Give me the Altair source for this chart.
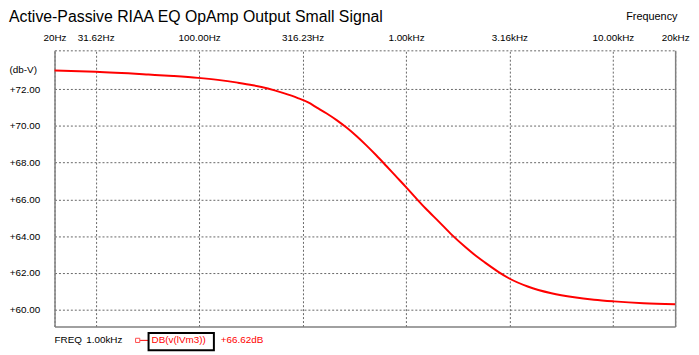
import altair as alt
import pandas as pd

# ---- data ----
freq_hz = [20, 31.6, 56.9, 75.0, 98.8, 123.1, 153.5, 181.9, 214.9, 253.9, 299.9, 336.7, 370.7,
           413.8, 462.0, 515.8, 575.8, 643.2, 717.9, 801.6, 895, 1000, 1115, 1245, 1437, 1671,
           1935, 2160, 2412, 2793, 3142, 3875, 5046, 6502, 8106, 10100, 14060, 20000]
db_v = [73.02, 72.95, 72.8, 72.72, 72.62, 72.51, 72.36, 72.22, 72.04, 71.8, 71.52, 71.28, 71.0,
        70.68, 70.32, 69.91, 69.45, 68.94, 68.4, 67.83, 67.25, 66.67, 66.08, 65.5, 64.8, 64.05,
        63.4, 62.95, 62.55, 62.05, 61.7, 61.25, 60.88, 60.66, 60.53, 60.44, 60.34, 60.28]

x_tick_values = [20, 31.62, 100, 316.23, 1000, 3162.3, 10000, 20000]
x_tick_labels = ["20Hz", "31.62Hz", "100.00Hz", "316.23Hz", "1.00kHz", "3.16kHz", "10.00kHz", "20kHz"]
y_tick_values = [60, 62, 64, 66, 68, 70, 72]
y_domain = [59.07, 74.12]

title_text = "Active-Passive RIAA EQ OpAmp Output Small Signal"
x_title = "Frequency"
y_title = "(db-V)"
cursor_label = ["FREQ", "1.00kHz"]
trace_name = "DB(v(lVm3))"
cursor_value = "+66.62dB"

FONT = "Liberation Sans"
RED = "#ff0000"
GRAY = "#808080"

df = pd.DataFrame({"freq": freq_hz, "db": db_v})

# label expression built from the tick lists
expr = "''"
for v, lab in zip(reversed(x_tick_values), reversed(x_tick_labels)):
    expr = f"abs(datum.value - {v}) < {v * 0.001} ? '{lab}' : ({expr})"

x_scale = alt.Scale(type="log", domain=[20, 20000], nice=False)
y_scale = alt.Scale(domain=y_domain, nice=False, zero=False)

main = alt.Chart(df).mark_line(color=RED, strokeWidth=2, interpolate="monotone").encode(
    x=alt.X("freq:Q", scale=x_scale, axis=alt.Axis(
        orient="top", values=x_tick_values, labelExpr=expr, labelOverlap=False, labelFlush=False,
        ticks=False, tickSize=0, labelPadding=8, domain=False,
        grid=True, gridColor="#666666", gridDash=[2, 2], gridWidth=1,
        labelFont=FONT, labelFontSize=10, labelColor="black",
        title=x_title, titleFont=FONT, titleFontSize=11, titleFontWeight="normal", titleColor="black",
        titleX=577, titleY=-34, titleAlign="left", titleBaseline="middle", titleAngle=0)),
    y=alt.Y("db:Q", scale=y_scale, axis=alt.Axis(
        orient="left", values=y_tick_values + [y_domain[1]],
        labelExpr="datum.value > 73 ? '' : '+' + format(datum.value, '.2f')",
        ticks=False, tickSize=0, labelPadding=15, domain=True, domainColor=GRAY, domainWidth=1.5,
        grid=True, gridColor="#666666", gridDash=[2, 2], gridWidth=1,
        labelFont=FONT, labelFontSize=10, labelColor="black",
        title=y_title, titleFont=FONT, titleFontSize=10, titleFontWeight="normal", titleColor="black",
        titleX=-46, titleY=19.5, titleAlign="left", titleBaseline="middle", titleAngle=0)),
)

frame = alt.Chart(df).mark_line(opacity=0).encode(
    x=alt.X("freq:Q", scale=x_scale, axis=alt.Axis(
        orient="bottom", labels=False, ticks=False, grid=False, domain=True,
        domainColor=GRAY, domainWidth=1.5, title=None)),
    y=alt.Y("db:Q", scale=y_scale, axis=alt.Axis(
        orient="right", labels=False, ticks=False, grid=False, domain=True,
        domainColor=GRAY, domainWidth=1.5, title=None)),
)

ann_y = 293

def text_layer(s, x, color):
    return alt.Chart(pd.DataFrame({"t": [s]})).mark_text(
        align="left", baseline="middle", font=FONT, fontSize=10, color=color
    ).encode(text="t:N", x=alt.value(x), y=alt.value(ann_y))

freq_lab = text_layer(cursor_label[0], 0, "black")
freq_val = text_layer(cursor_label[1], 32, "black")
trace_lab = text_layer(trace_name, 98, RED)
value_lab = text_layer(cursor_value, 168, RED)

marker = alt.Chart(pd.DataFrame({"t": [trace_name]})).mark_point(
    shape="square", filled=False, color=RED, size=18, strokeWidth=1
).encode(x=alt.value(84), y=alt.value(ann_y))
marker_line = alt.Chart(pd.DataFrame({"t": [trace_name]})).mark_rule(
    color=RED, strokeWidth=1
).encode(x=alt.value(86.5), x2=alt.value(95), y=alt.value(ann_y))
box = alt.Chart(pd.DataFrame({"t": [trace_name]})).mark_rect(
    filled=False, stroke="black", strokeWidth=2, fillOpacity=0
).encode(x=alt.value(95), x2=alt.value(161), y=alt.value(285.5), y2=alt.value(303))

chart = alt.layer(
    main, frame, freq_lab, freq_val, marker, marker_line, box, trace_lab, value_lab
).resolve_axis(x="independent", y="independent").properties(
    width=627, height=279,
    autosize=alt.AutoSizeParams(type="none"),
    padding={"left": 47, "top": 41, "right": 16, "bottom": 26},
    title=alt.TitleParams(title_text, anchor="start", frame="group", font=FONT, fontSize=16,
                          fontWeight="normal", color="black", baseline="alphabetic",
                          offset=0, dx=-46, dy=27),
    background="white",
).configure_view(stroke=None)

chart.save("out.html", embed_options={"renderer": "svg", "actions": False})
